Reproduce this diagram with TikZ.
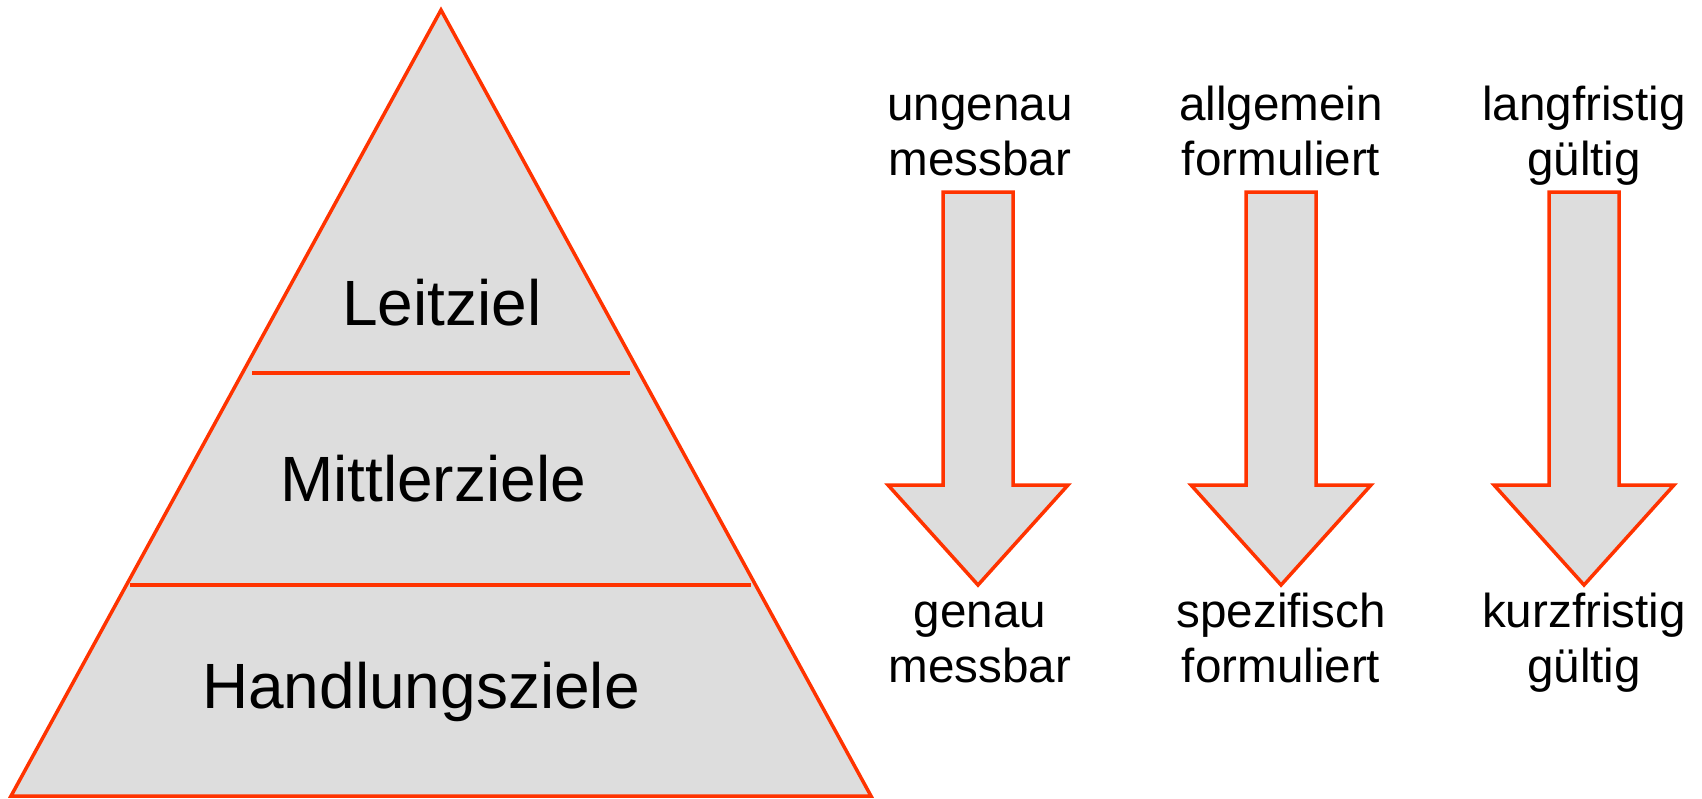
\documentclass[tikz,border=0pt]{standalone}
\usepackage{fontspec}
\setmainfont{Liberation Sans}
\definecolor{edgeorange}{HTML}{FF3300}
\definecolor{facegrey}{HTML}{DDDDDD}
\tikzset{
  outlined/.style={draw=edgeorange, fill=facegrey, line width=1.75pt, line join=miter},
  divider/.style={draw=edgeorange, line width=1.75pt},
  bigtext/.style={anchor=base, inner sep=0pt, font=\fontsize{32}{38}\selectfont},
  smalltext/.style={anchor=base, inner sep=0pt, font=\fontsize{23.8}{28}\selectfont},
}
\begin{document}
\begin{tikzpicture}[x=0.5pt,y=-0.5pt]
\useasboundingbox (0,0) rectangle (1702,798);
% pyramid
\path[outlined] (441,10) -- (871,796) -- (11,796) -- cycle;
\draw[divider] (252,373) -- (630,373);
\draw[divider] (130,585) -- (751,585);
\node[bigtext] (leit) at (442,325) {Leitziel};
\node[bigtext] (mittler) at (433,501) {Mittlerziele};
\node[bigtext] (handlung) at (421,708) {Handlungsziele};
% arrows
\foreach \cx in {978,1281,1584}{
  \path[outlined] (\cx-35,192) -- (\cx+35,192) -- (\cx+35,485) -- (\cx+90,485)
    -- (\cx,585) -- (\cx-90,485) -- (\cx-35,485) -- cycle;
}
% labels arrow 1
\node[smalltext] (a1t1) at (980,120) {ungenau};
\node[smalltext] (a1t2) at (980,175) {messbar};
\node[smalltext] (a1b1) at (980,627) {genau};
\node[smalltext] (a1b2) at (980,682) {messbar};
% labels arrow 2
\node[smalltext] (a2t1) at (1281,120) {allgemein};
\node[smalltext] (a2t2) at (1281,175) {formuliert};
\node[smalltext] (a2b1) at (1281,627) {spezifisch};
\node[smalltext] (a2b2) at (1281,682) {formuliert};
% labels arrow 3
\node[smalltext] (a3t1) at (1584,120) {langfristig};
\node[smalltext] (a3t2) at (1584,175) {gültig};
\node[smalltext] (a3b1) at (1584,627) {kurzfristig};
\node[smalltext] (a3b2) at (1584,682) {gültig};
\end{tikzpicture}
\end{document}
